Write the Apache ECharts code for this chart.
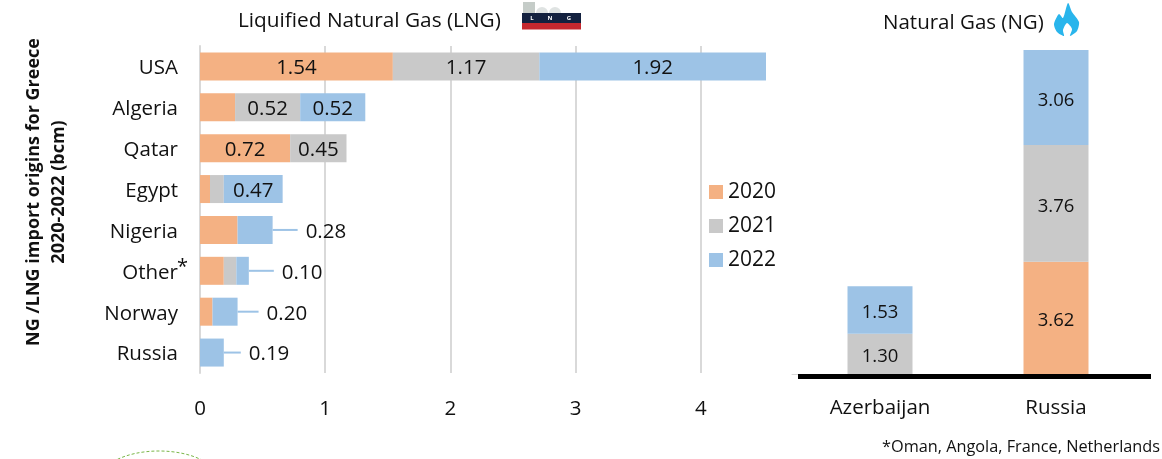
<!DOCTYPE html>
<html>
<head>
<meta charset="utf-8">
<script src="https://cdn.jsdelivr.net/npm/echarts@6/dist/echarts.min.js"></script>
<style>
html,body{margin:0;padding:0;background:#fff}
#chart{width:1162px;height:459px}
</style>
</head>
<body>
<div id="chart"></div>
<script>
var years = ['2020','2021','2022'];
var colors = ['#f4b183','#c9c9c9','#9dc3e6'];

var lngCountries = ['USA','Algeria','Qatar','Egypt','Nigeria','Other','Norway','Russia'];
var lng2020 = [1.54,0.28,0.72,0.08,0.30,0.19,0.10,null];
var lng2021 = [1.17,0.52,0.45,0.11,null,0.10,null,null];
var lng2022 = [1.92,0.52,null,0.47,0.28,0.10,0.20,0.19];
// which segments carry a value label in the picture
var lngShown2020 = ['USA','Qatar'];
var lngShown2021 = ['USA','Algeria','Qatar'];
var lngShown2022 = ['USA','Algeria','Egypt'];
var lngLeader2022 = ['Nigeria','Other','Norway','Russia'];

var ngCountries = ['Azerbaijan','Russia'];
var ng2020 = [null,3.62];
var ng2021 = [1.30,3.76];
var ng2022 = [1.53,3.06];

var font = 'Open Sans';
// pixels of leader line between bar end and its label
var leaderGap = {Nigeria:25,Other:25,Norway:21,Russia:17};

function lngItems(values, shown, leader){
    return values.map(function(v,i){
        var name = lngCountries[i];
        if(leader && leader.indexOf(name)>=0){
            return {
                value:v,
                label:{show:true,position:'right',distance:leaderGap[name]+8}
            };
        }
        return {value:v,label:{show:shown.indexOf(name)>=0}};
    });
}

function lngSeries(idx, values, shown, leader){
    return {
        name:years[idx],
        type:'bar',
        stack:'lng',
        xAxisIndex:0,
        yAxisIndex:0,
        barWidth:28,
        itemStyle:{color:colors[idx]},
        label:{
            position:'inside',
            color:'#111',
            fontSize:20.5,
            fontFamily:font,
            offset:[0,2],
            formatter:function(p){return p.value.toFixed(2);}
        },
        data:lngItems(values,shown,leader)
    };
}

function ngSeries(idx, values){
    return {
        name:years[idx],
        type:'bar',
        stack:'ng',
        xAxisIndex:1,
        yAxisIndex:1,
        barWidth:65,
        itemStyle:{color:colors[idx]},
        label:{
            show:true,
            position:'inside',
            color:'#111',
            fontSize:18.5,
            fontFamily:font,
            offset:[0,3],
            formatter:function(p){return p.value.toFixed(2);}
        },
        data:values
    };
}

// leader lines start at the end of each stacked bar
var leaderData = lngLeader2022.map(function(name){
    var i = lngCountries.indexOf(name);
    var total = (lng2020[i]||0)+(lng2021[i]||0)+(lng2022[i]||0);
    return [total,i,leaderGap[name]];
});

var option = {
    animation:false,
    backgroundColor:'#fff',
    textStyle:{fontFamily:font,color:'#111'},
    title:[
        {text:'Liquified Natural Gas (LNG)',left:233,top:6,textStyle:{fontSize:20.8,fontWeight:'normal',color:'#111',fontFamily:font}},
        {text:'Natural Gas (NG)',left:878,top:8,textStyle:{fontSize:20.5,fontWeight:'normal',color:'#111',fontFamily:font}}
    ],
    legend:{
        orient:'vertical',
        left:704,
        top:173,
        itemWidth:14,
        itemHeight:14,
        itemGap:6,
        icon:'rect',
        data:years,
        textStyle:{fontSize:21,color:'#111',fontFamily:font,lineHeight:28}
    },
    grid:[
        {left:200,top:46,width:566,height:327},
        {left:792,top:50,width:352,height:324}
    ],
    xAxis:[
        {
            type:'value',
            gridIndex:0,
            min:0,
            max:4.52,
            interval:1,
            axisLine:{show:false},
            axisTick:{show:false},
            axisLabel:{fontSize:20.5,color:'#111',margin:26,showMaxLabel:false},
            splitLine:{show:true,showMaxLine:false,lineStyle:{color:'#d9d9d9',width:2}}
        },
        {
            type:'category',
            gridIndex:1,
            data:ngCountries,
            axisLine:{show:true,lineStyle:{color:'#d9d9d9',width:1}},
            axisTick:{show:false},
            axisLabel:{fontSize:20.5,color:'#111',margin:24}
        }
    ],
    yAxis:[
        {
            type:'category',
            gridIndex:0,
            inverse:true,
            data:lngCountries,
            axisLine:{show:true,lineStyle:{color:'#d9d9d9',width:2}},
            axisTick:{show:false},
            axisLabel:{
                margin:22,
                formatter:function(v){return '{t|'+v+'}';},
                rich:{t:{fontSize:20.5,color:'#111',fontFamily:font,padding:[4,0,0,0]}}
            }
        },
        {
            type:'value',
            gridIndex:1,
            min:0,
            max:10.44,
            show:false,
            splitLine:{show:false}
        }
    ],
    series:[
        lngSeries(0,lng2020,lngShown2020),
        lngSeries(1,lng2021,lngShown2021),
        lngSeries(2,lng2022,lngShown2022,lngLeader2022),
        ngSeries(0,ng2020),
        ngSeries(1,ng2021),
        ngSeries(2,ng2022),
        {
            type:'custom',
            xAxisIndex:0,
            yAxisIndex:0,
            silent:true,
            data:leaderData,
            encode:{x:0,y:1},
            renderItem:function(params,api){
                var p = api.coord([api.value(0),api.value(1)]);
                return {
                    type:'line',
                    shape:{x1:p[0],y1:p[1],x2:p[0]+api.value(2),y2:p[1]},
                    style:{stroke:'#9dc3e6',lineWidth:2}
                };
            }
        }
    ],
    graphic:[
        // y axis title
        {type:'text',x:46,y:192,rotation:Math.PI/2,style:{
            text:'NG /LNG import origins for Greece\n2020-2022 (bcm)',
            font:'bold 18px "Open Sans"',fill:'#111',align:'center',verticalAlign:'middle',lineHeight:25
        }},
        // asterisk next to Other
        {type:'text',x:177,y:257,style:{text:'*',font:'20px "Open Sans"',fill:'#111'}},
        // baseline under the column chart
        {type:'rect',shape:{x:798,y:374,width:353,height:5},style:{fill:'#000'},z:10},
        // footnote
        {type:'text',x:882,y:447,style:{
            text:'*Oman, Angola, France, Netherlands',
            font:'16.3px "Open Sans"',fill:'#111',verticalAlign:'middle'
        }},
        // LNG ship icon
        {type:'rect',shape:{x:523,y:2,width:12,height:12},style:{fill:'#c5ccc8'}},
        {type:'circle',shape:{cx:542,cy:13,r:6},style:{fill:'#dfe3e2'}},
        {type:'circle',shape:{cx:555,cy:13,r:6},style:{fill:'#dfe3e2'}},
        {type:'rect',shape:{x:522,y:13,width:59,height:10},style:{fill:'#13213f'}},
        {type:'rect',shape:{x:522,y:23,width:59,height:6.5},style:{fill:'#c5282f'}},
        {type:'text',x:532,y:18.5,style:{text:'L',font:'bold 6px "Open Sans"',fill:'#fff',align:'center',verticalAlign:'middle'}},
        {type:'text',x:550,y:18.5,style:{text:'N',font:'bold 6px "Open Sans"',fill:'#fff',align:'center',verticalAlign:'middle'}},
        {type:'text',x:569,y:18.5,style:{text:'G',font:'bold 6px "Open Sans"',fill:'#fff',align:'center',verticalAlign:'middle'}},
        // flame icon
        {type:'polygon',shape:{smooth:0.25,points:[[1068,3],[1072,12],[1079,22],[1077,31],[1070,36],[1072,29],[1067,23],[1063,30],[1064,36],[1057,32],[1054,24],[1059,14],[1063,18]]},style:{fill:'#29b5ec'}},
        // green dashed outline at the lower edge
        {type:'ellipse',shape:{cx:159,cy:481,rx:60,ry:30},style:{fill:'none',stroke:'#7ab648',lineWidth:1,lineDash:[3,2]}}
    ]
};
var myChart = echarts.init(document.getElementById('chart'));
myChart.setOption(option);
</script>
</body>
</html>
